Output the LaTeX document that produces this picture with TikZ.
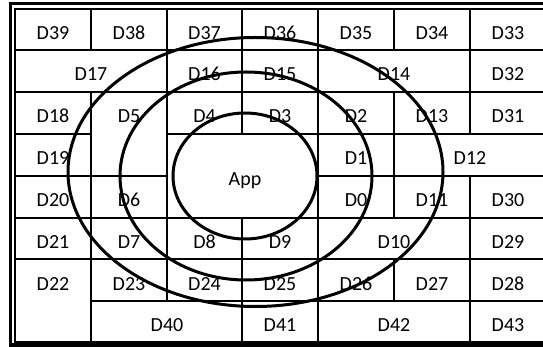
\documentclass[tikz,border=0pt]{standalone}
\usepackage{fontspec}
\setmainfont{Carlito}
\begin{document}
\begin{tikzpicture}[x=1pt,y=-1pt,
  gridline/.style={line width=2pt},
  ring/.style={line width=3pt},
  lbl/.style={anchor=base, inner sep=0pt, font=\fontsize{20}{24}\selectfont}]
\useasboundingbox (0,0) rectangle (543,347);
\clip (0,0) rectangle (543,347);
% double frame
\draw[line width=3.2pt] (10.5,3.5) rectangle (552,345);
\draw[gridline] (15,9) rectangle (546,341.8);
% horizontal lines
\draw[gridline] (15,50) -- (546,50);
\draw[gridline] (15,92) -- (546,92);
\draw[gridline] (15,134) -- (91,134) (167,134) -- (546,134);
\draw[gridline] (15,176) -- (167,176) (318,176) -- (546,176);
\draw[gridline] (15,218) -- (546,218);
\draw[gridline] (15,259) -- (546,259);
\draw[gridline] (91,301) -- (546,301);
% vertical lines
\draw[gridline] (91,9) -- (91,50) (91,92) -- (91,342);
\draw[gridline] (167,9) -- (167,301);
\draw[gridline] (242,9) -- (242,134) (242,218) -- (242,342);
\draw[gridline] (318,9) -- (318,342);
\draw[gridline] (394,9) -- (394,50) (394,92) -- (394,218) (394,259) -- (394,301);
\draw[gridline] (470,9) -- (470,134) (470,176) -- (470,342);
% row 0
\node[lbl] (d39) at (53,39.5) {D39};
\node[lbl] (d38) at (129,39.5) {D38};
\node[lbl] (d37) at (204.5,39.5) {D37};
\node[lbl] (d36) at (280,39.5) {D36};
\node[lbl] (d35) at (356,39.5) {D35};
\node[lbl] (d34) at (432,39.5) {D34};
\node[lbl] (d33) at (508,39.5) {D33};
% row 1
\node[lbl] (d17) at (91,81) {D17};
\node[lbl] (d16) at (204.5,81) {D16};
\node[lbl] (d15) at (280,81) {D15};
\node[lbl] (d14) at (394,81) {D14};
\node[lbl] (d32) at (508,81) {D32};
% row 2
\node[lbl] (d18) at (53,123) {D18};
\node[lbl] (d5) at (129,123) {D5};
\node[lbl] (d4) at (204.5,123) {D4};
\node[lbl] (d3) at (280,123) {D3};
\node[lbl] (d2) at (356,123) {D2};
\node[lbl] (d13) at (432,123) {D13};
\node[lbl] (d31) at (508,123) {D31};
% row 3
\node[lbl] (d19) at (53,165) {D19};
\node[lbl] (d1) at (356,165) {D1};
\node[lbl] (d12) at (470,165) {D12};
% App
\node[lbl] (app) at (245,185.5) {App};
% row 4
\node[lbl] (d20) at (53,207) {D20};
\node[lbl] (d6) at (129,207) {D6};
\node[lbl] (d0) at (356,207) {D0};
\node[lbl] (d11) at (432,207) {D11};
\node[lbl] (d30) at (508,207) {D30};
% row 5
\node[lbl] (d21) at (53,248.5) {D21};
\node[lbl] (d7) at (129,248.5) {D7};
\node[lbl] (d8) at (204.5,248.5) {D8};
\node[lbl] (d9) at (280,248.5) {D9};
\node[lbl] (d10) at (394,248.5) {D10};
\node[lbl] (d29) at (508,248.5) {D29};
% row 6
\node[lbl] (d22) at (53,290) {D22};
\node[lbl] (d23) at (129,290) {D23};
\node[lbl] (d24) at (204.5,290) {D24};
\node[lbl] (d25) at (280,290) {D25};
\node[lbl] (d26) at (356,290) {D26};
\node[lbl] (d27) at (432,290) {D27};
\node[lbl] (d28) at (508,290) {D28};
% row 7
\node[lbl] (d40) at (167,331.5) {D40};
\node[lbl] (d41) at (280,331.5) {D41};
\node[lbl] (d42) at (394,331.5) {D42};
\node[lbl] (d43) at (508,331.5) {D43};
% rings
\draw[ring] (245,176) ellipse [x radius=72, y radius=63];
\draw[ring] (246,176) ellipse [x radius=126, y radius=104];
\draw[ring] (255.5,172) ellipse [x radius=187.5, y radius=134.5];
\end{tikzpicture}
\end{document}
